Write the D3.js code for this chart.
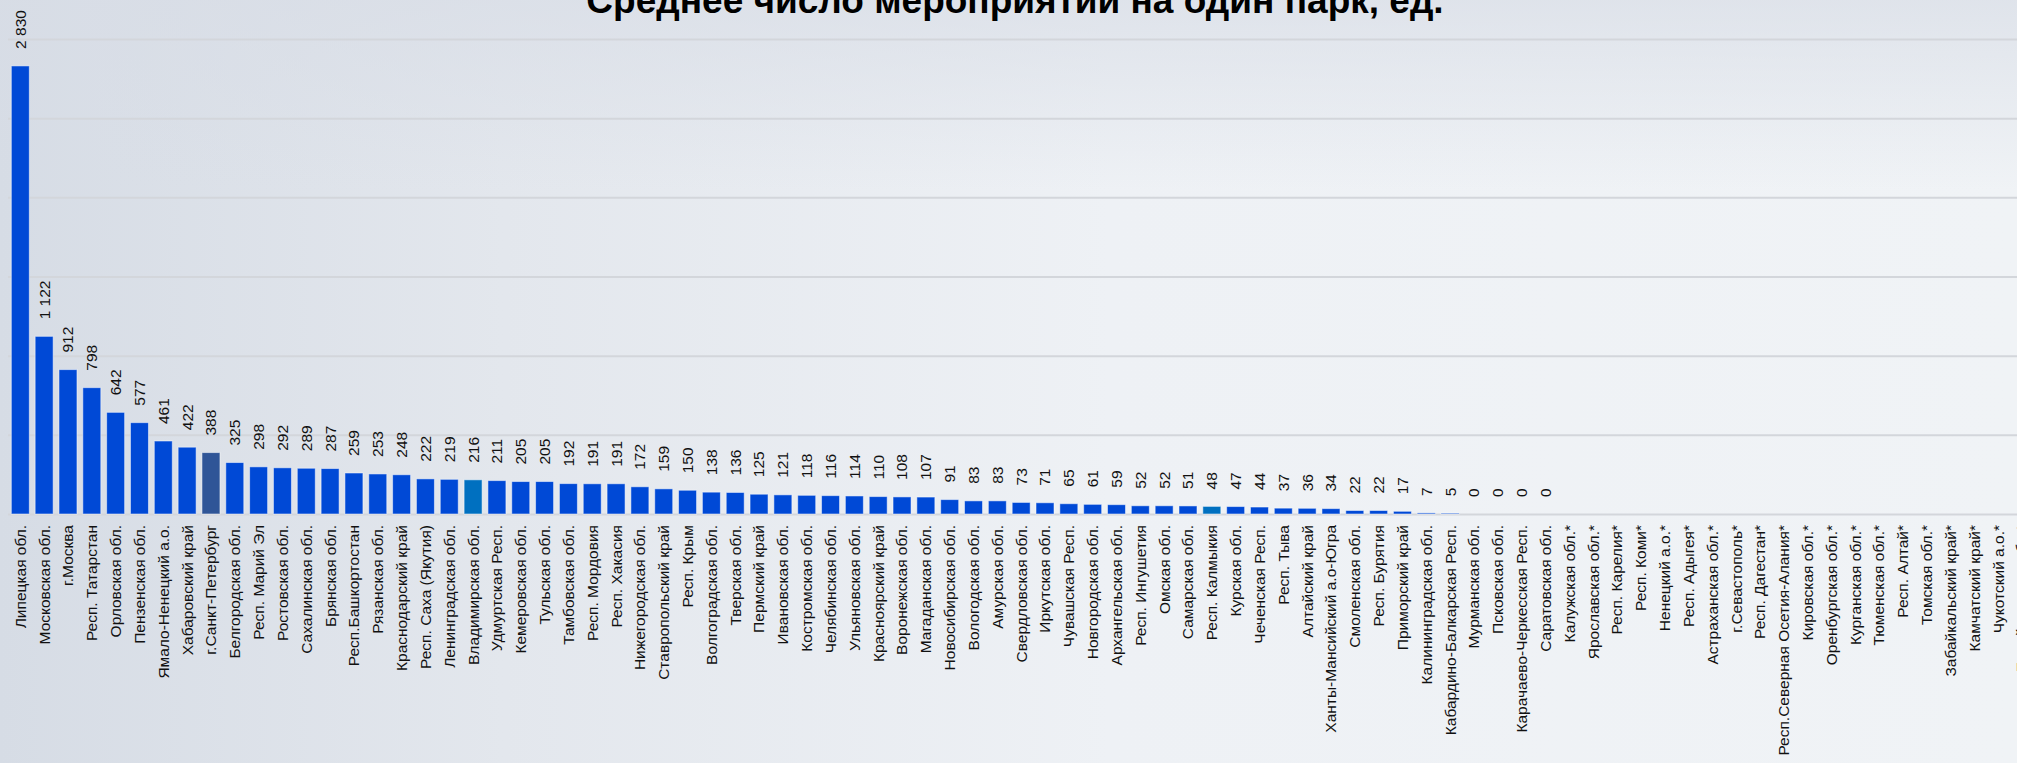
<!DOCTYPE html>
<html><head><meta charset="utf-8">
<script src="https://cdn.jsdelivr.net/npm/d3@7"></script>
<style>
html,body{margin:0;padding:0;overflow:hidden;}
body{width:2017px;height:763px;}
text{font-family:"Liberation Sans",Arial,sans-serif;}
</style></head>
<body>
<svg id="chart" width="2017" height="763"></svg>
<script>
const title = "Среднее число мероприятий на один парк, ед.";
const categories = ["Липецкая обл.","Московская обл.","г.Москва","Респ. Татарстан","Орловская обл.","Пензенская обл.","Ямало-Ненецкий а.о.","Хабаровский край","г.Санкт-Петербург","Белгородская обл.","Респ. Марий Эл","Ростовская обл.","Сахалинская обл.","Брянская обл.","Респ.Башкортостан","Рязанская обл.","Краснодарский край","Респ. Саха (Якутия)","Ленинградская обл.","Владимирская обл.","Удмуртская Респ.","Кемеровская обл.","Тульская обл.","Тамбовская обл.","Респ. Мордовия","Респ. Хакасия","Нижегородская обл.","Ставропольский край","Респ. Крым","Волгоградская обл.","Тверская обл.","Пермский край","Ивановская обл.","Костромская обл.","Челябинская обл.","Ульяновская обл.","Красноярский край","Воронежская обл.","Магаданская обл.","Новосибирская обл.","Вологодская обл.","Амурская обл.","Свердловская обл.","Иркутская обл.","Чувашская Респ.","Новгородская обл.","Архангельская обл.","Респ. Ингушетия","Омская обл.","Самарская обл.","Респ. Калмыкия","Курская обл.","Чеченская Респ.","Респ. Тыва","Алтайский край","Ханты-Мансийский а.о-Югра","Смоленская обл.","Респ. Бурятия","Приморский край","Калининградская обл.","Кабардино-Балкарская Респ.","Мурманская обл.","Псковская обл.","Карачаево-Черкесская Респ.","Саратовская обл.","Калужская обл.*","Ярославская обл.*","Респ. Карелия*","Респ. Коми*","Ненецкий а.о.*","Респ. Адыгея*","Астраханская обл.*","г.Севастополь*","Респ. Дагестан*","Респ.Северная Осетия-Алания*","Кировская обл.*","Оренбургская обл.*","Курганская обл.*","Тюменская обл.*","Респ. Алтай*","Томская обл.*","Забайкальский край*","Камчатский край*","Чукотский а.о.*","Еврейская авт. обл.*"];
const values = [2830,1122,912,798,642,577,461,422,388,325,298,292,289,287,259,253,248,222,219,216,211,205,205,192,191,191,172,159,150,138,136,125,121,118,116,114,110,108,107,91,83,83,73,71,65,61,59,52,52,51,48,47,44,37,36,34,22,22,17,7,5,0,0,0,0,null,null,null,null,null,null,null,null,null,null,null,null,null,null,null,null,null,null,null,null];
const highlightSPb = ["г.Санкт-Петербург"];
const highlightTeal = ["Владимирская обл.","Респ. Калмыкия"];
const gridTicks = [0,500,1000,1500,2000,2500,3000];

const svg = d3.select("#chart");
const W = 2017, H = 763;
const defs = svg.append("defs");
const g1 = defs.append("linearGradient").attr("id","bgH").attr("x1","0").attr("y1","0").attr("x2","1").attr("y2","0");
[["0%","#d6dce5"],["25%","#e3e7ed"],["55%","#eef1f5"],["100%","#f0f3f6"]].forEach(([o,c])=>g1.append("stop").attr("offset",o).attr("stop-color",c));
const g2 = defs.append("linearGradient").attr("id","bgV").attr("x1","0").attr("y1","0").attr("x2","0").attr("y2","1");
g2.append("stop").attr("offset","0%").attr("stop-color","#d8dde6").attr("stop-opacity",0.7);
g2.append("stop").attr("offset","25%").attr("stop-color","#d8dde6").attr("stop-opacity",0);
svg.append("rect").attr("width",W).attr("height",H).attr("fill","url(#bgH)");
svg.append("rect").attr("width",W).attr("height",H).attr("fill","url(#bgV)");

const x0 = 8.4, step = 23.83;
const x = d3.scaleBand().domain(categories).range([x0, x0 + step*categories.length]).paddingInner(0.245).paddingOuter(0.1225);
const y = d3.scaleLinear().domain([0,3000]).range([514,39]);

// grid
const grid = svg.append("g").attr("transform","translate(8,0)")
  .call(d3.axisLeft(y).tickValues(gridTicks).tickSize(-(W+40)).tickFormat(""));
grid.select(".domain").remove();
grid.selectAll(".tick line").attr("stroke","#d3d6db").attr("stroke-width",2);

// bars
const data = categories.map((c,i)=>({c, v: values[i]})).filter(d=>d.v!==null);
const color = d => highlightSPb.includes(d.c) ? "#2f5597" : (highlightTeal.includes(d.c) ? "#0070c0" : "#0049d6");
svg.append("g").selectAll("rect").data(data).join("rect")
  .attr("x", d=>x(d.c)).attr("width", x.bandwidth())
  .attr("y", d=>y(d.v)).attr("height", d=>y(0)-y(d.v))
  .attr("fill", color)
  .attr("stroke","rgba(255,255,255,0.5)").attr("stroke-width",1);

// value labels
const fmt = v => d3.format(",")(v).replace(/,/g," ");
svg.append("g").selectAll("text").data(data).join("text")
  .attr("transform", d=>`translate(${x(d.c)+x.bandwidth()/2},${y(d.v)-17}) rotate(-90)`)
  .attr("dy","0.35em").attr("text-anchor","start")
  .attr("font-size",15.5).attr("fill","#111")
  .text(d=>fmt(d.v));

// x axis
const xa = svg.append("g").attr("transform","translate(0,514)")
  .call(d3.axisBottom(x).tickSize(0).tickPadding(0));
xa.select(".domain").remove();
xa.selectAll(".tick text")
  .attr("font-family","Liberation Sans, Arial, sans-serif")
  .attr("font-size",15.5).attr("fill","#111")
  .attr("text-anchor","end")
  .attr("transform","translate(0,11) rotate(-90)")
  .attr("x",0).attr("y",0).attr("dy","0.35em");

// title
svg.append("text").attr("x",1015).attr("y",13).attr("text-anchor","middle")
  .attr("font-size",37).attr("font-weight","bold").attr("fill","#000").text(title);
</script>
</body></html>
